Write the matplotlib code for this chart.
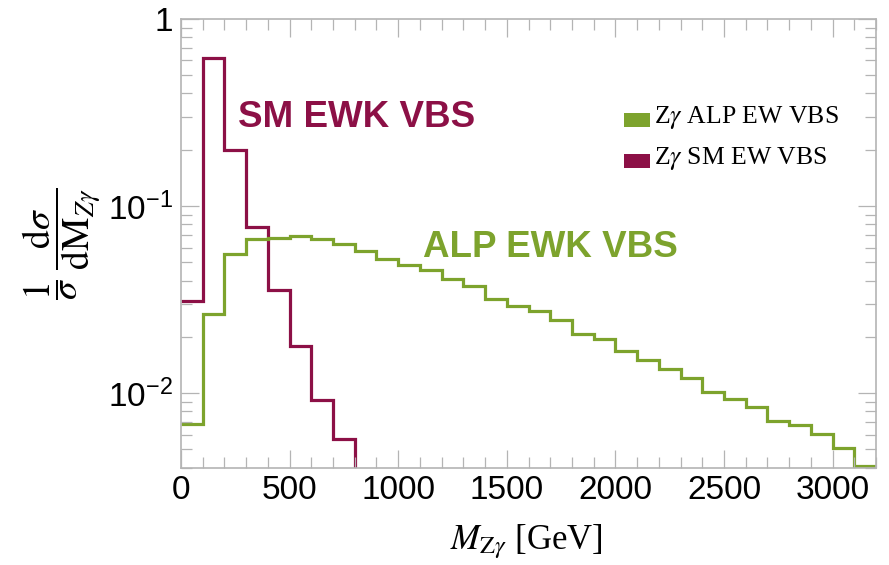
import numpy as np
import matplotlib
matplotlib.use('Agg')
import matplotlib.pyplot as plt
from matplotlib.patches import Rectangle
from matplotlib.ticker import MultipleLocator, LogLocator, FixedLocator, FixedFormatter, NullFormatter

plt.rcParams['font.family'] = ['Liberation Sans', 'DejaVu Sans']
plt.rcParams['mathtext.fontset'] = 'custom'
plt.rcParams['mathtext.rm'] = 'Liberation Sans'
plt.rcParams['mathtext.it'] = 'Liberation Sans:italic'

# bin edges in GeV (100 GeV bins)
alp_edges = np.arange(0, 3300, 100)
sm_edges = np.arange(0, 1000, 100)

# normalised distributions
alp_vals = [0.00683, 0.0266, 0.0551, 0.0669, 0.0674, 0.0691, 0.0669, 0.0624,
            0.0574, 0.0523, 0.0487, 0.0455, 0.0405, 0.0372, 0.0320, 0.0291,
            0.0276, 0.0247, 0.0207, 0.0195, 0.0167, 0.0150, 0.0135, 0.0120,
            0.0102, 0.00929, 0.00843, 0.00714, 0.00677, 0.00604, 0.00508, 0.00408]
sm_vals = [0.0310, 0.616, 0.200, 0.0776, 0.0354, 0.0179, 0.00914, 0.00567, 0.0030]

green = '#7DA32D'
red = '#8C1046'
frame = '#b4b4b4'

fig = plt.figure(figsize=(8.89, 5.65), dpi=100)
ax = fig.add_axes([0.2036, 0.1717, 0.7818, 0.7947])

ax.stairs(sm_vals, sm_edges, color=red, lw=2.3, baseline=None)
ax.stairs(alp_vals, alp_edges, color=green, lw=2.3, baseline=None)

ax.set_yscale('log')
ax.set_xlim(0, 3200)
ax.set_ylim(0.00398, 1)

ax.xaxis.set_major_locator(MultipleLocator(500))
ax.xaxis.set_minor_locator(MultipleLocator(100))
ax.yaxis.set_major_locator(FixedLocator([0.01, 0.1, 1]))
ax.yaxis.set_major_formatter(FixedFormatter([r'$10^{-2}$', r'$10^{-1}$', '1']))
ax.yaxis.set_minor_locator(LogLocator(base=10, subs=np.arange(2, 10)))
ax.yaxis.set_minor_formatter(NullFormatter())

ax.tick_params(which='both', direction='in', top=True, right=True, color=frame, width=0.9,
               labelsize=24)
ax.tick_params(which='major', length=13)
ax.tick_params(which='minor', length=8)
ax.tick_params(axis='x', pad=5)
ax.tick_params(axis='y', pad=6)
for s in ax.spines.values():
    s.set_color(frame)
    s.set_linewidth(1.2)

# axis titles
ax.text(0.497, -0.163, r'$M_{\mathrm{Z}\gamma}$ [GeV]', transform=ax.transAxes,
        ha='center', va='center', fontsize=25, family='Liberation Serif', math_fontfamily='stix')
ax.text(-0.1705, 0.500, r'$\dfrac{1}{\sigma}\;\dfrac{\mathrm{d}\sigma}{\mathrm{dM}_{Z\gamma}}$',
        transform=ax.transAxes, rotation=90, ha='center', va='center', fontsize=27,
        math_fontfamily='stix')

# in-plot labels
ax.text(0.082, 0.760, 'SM EWK VBS', transform=ax.transAxes, color=red, fontsize=26.5,
        fontweight='bold', va='baseline')
ax.text(0.348, 0.469, 'ALP EWK VBS', transform=ax.transAxes, color=green, fontsize=26.5,
        fontweight='bold', va='baseline')

# legend
leg_names = [r'Z$\gamma$ ALP EW VBS', r'Z$\gamma$ SM EW VBS']
leg_colors = [green, red]
leg_y = [0.7677, 0.6764]
for name, c, yb in zip(leg_names, leg_colors, leg_y):
    ax.add_patch(Rectangle((0.6374, yb - 0.0085), 0.0374, 0.0312, transform=ax.transAxes,
                           facecolor=c, edgecolor='none', clip_on=False))
    ax.text(0.6806, yb, name, transform=ax.transAxes, va='baseline', fontsize=18.5,
            family='Liberation Serif', math_fontfamily='stix')

fig.savefig('out.png', dpi=100)
